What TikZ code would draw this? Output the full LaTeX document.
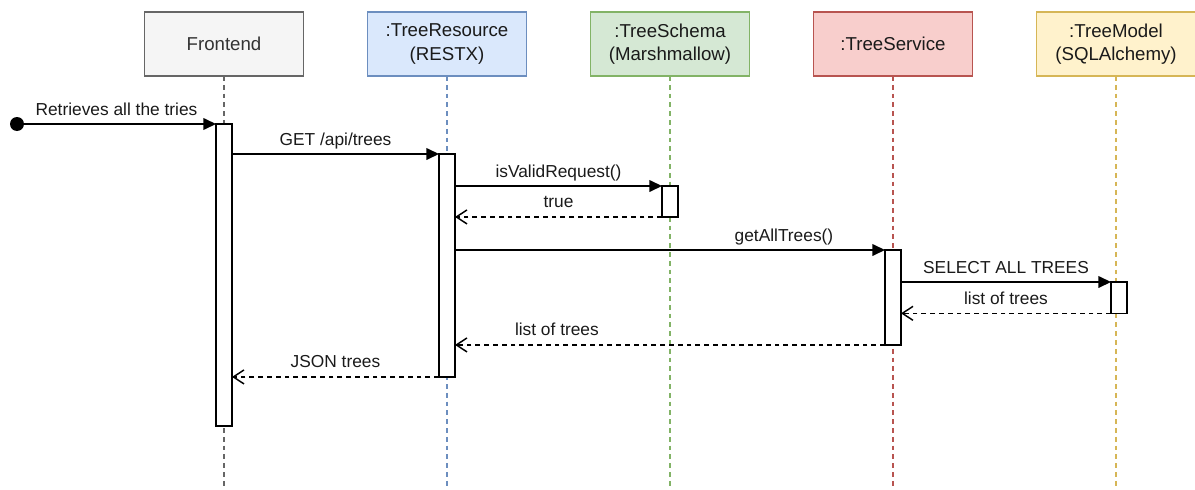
\documentclass[tikz,border=0pt]{standalone}
\usepackage{fontspec}
\setmainfont{Liberation Sans}
\usetikzlibrary{arrows.meta}

\definecolor{feFill}{HTML}{F5F5F5}\definecolor{feLine}{HTML}{666666}
\definecolor{reFill}{HTML}{DAE8FC}\definecolor{reLine}{HTML}{6C8EBF}
\definecolor{scFill}{HTML}{D5E8D4}\definecolor{scLine}{HTML}{82B366}
\definecolor{svFill}{HTML}{F8CECC}\definecolor{svLine}{HTML}{B85450}
\definecolor{moFill}{HTML}{FFF2CC}\definecolor{moLine}{HTML}{D6B656}
\definecolor{txt}{HTML}{1A1A1A}

\tikzset{
  actor/.style={draw, line width=1.1pt, rectangle, minimum width=119pt, minimum height=48pt,
    inner sep=0pt, outer sep=0pt, align=center, font=\fontsize{14}{17.5}\selectfont, text=txt},
  life/.style={line width=1.1pt, dash pattern=on 3.6pt off 3pt},
  bar/.style={draw, fill=white, line width=1.1pt, rectangle, minimum width=12pt,
    inner sep=0pt, outer sep=0pt, anchor=north},
  call/.style={line width=1.1pt, -{Triangle[length=9.5pt,width=8.8pt]}},
  reply/.style={line width=1.1pt, dash pattern=on 3.6pt off 3pt,
    -{Straight Barb[length=8pt,width=10.5pt,line width=1.1pt]}},
  lbl/.style={font=\fontsize{13}{15}\selectfont, text=txt, inner sep=0pt, anchor=base, yshift=6.75pt},
}

\begin{document}
\begin{tikzpicture}[x=0.75pt,y=-0.75pt]
\useasboundingbox (0,0) rectangle (1195,489);

% participants
\node[actor, fill=feFill, draw=feLine, text=black!80] (fe)  at (224,44)  {Frontend};
\node[actor, fill=reFill, draw=reLine] (res) at (447,44)  {:TreeResource\\(RESTX)};
\node[actor, fill=scFill, draw=scLine] (sch) at (670,44)  {:TreeSchema\\(Marshmallow)};
\node[actor, fill=svFill, draw=svLine] (svc) at (893,44)  {:TreeService};
\node[actor, fill=moFill, draw=moLine] (mdl) at (1116,44) {:TreeModel\\(SQLAlchemy)};

% lifelines
\draw[life, feLine] (fe.south)  -- ++(0,413);
\draw[life, reLine] (res.south) -- ++(0,413);
\draw[life, scLine] (sch.south) -- ++(0,413);
\draw[life, svLine] (svc.south) -- ++(0,413);
\draw[life, moLine] (mdl.south) -- ++(0,413);

% activation bars
\node[bar, minimum height=226.5pt] (feb)  at (224,124)  {};
\node[bar, minimum height=167.2pt] (resb) at (447,154)  {};
\node[bar, minimum height=23.2pt]  (schb) at (670,186)  {};
\node[bar, minimum height=71.2pt]  (svcb) at (893,250)  {};
\node[bar, minimum height=23.5pt]  (mdlb) at (1119,282) {};

% initial message
\node[circle, fill=black, minimum size=10.5pt, inner sep=0pt] (st) at (17,124) {};
\draw[call] (st.center) -- (feb.north west)
  node[lbl, pos=0.5] {Retrieves all the tries};

% messages
\draw[call] (feb.east |- resb.north) -- (resb.north west)
  node[lbl, pos=0.5] {GET /api/trees};
\draw[call] (resb.east |- schb.north) -- (schb.north west)
  node[lbl, pos=0.5] {isValidRequest()};
\draw[reply] (schb.south west) -- (resb.east |- schb.south)
  node[lbl, pos=0.5] {true};
\draw[call] (resb.east |- svcb.north) -- (svcb.north west)
  node[lbl, pos=0.765] {getAllTrees()};
\draw[call] (svcb.east |- mdlb.north) -- (mdlb.north west)
  node[lbl, pos=0.5] {SELECT ALL TREES};
\draw[reply] (mdlb.south west) -- (svcb.east |- mdlb.south)
  node[lbl, pos=0.5] {list of trees};
\draw[reply] (svcb.south west) -- (resb.east |- svcb.south)
  node[lbl, pos=0.763] {list of trees};
\draw[reply] (resb.south west) -- (feb.east |- resb.south)
  node[lbl, pos=0.5] {JSON trees};
\end{tikzpicture}
\end{document}
